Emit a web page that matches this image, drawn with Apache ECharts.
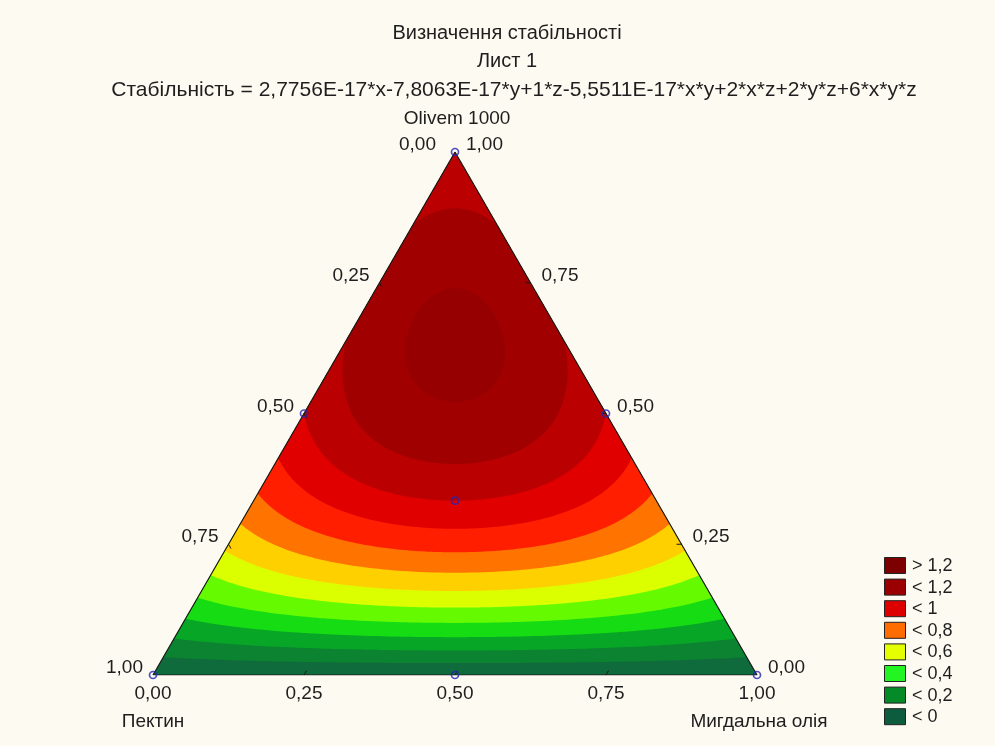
<!DOCTYPE html>
<html>
<head>
<meta charset="utf-8">
<title>Визначення стабільності</title>
<script src="https://cdn.jsdelivr.net/npm/echarts@6/dist/echarts.min.js"></script>
<style>
  html, body { margin: 0; padding: 0; background: #fdfaf1; }
  #chart { width: 995px; height: 746px; }
</style>
</head>
<body>
<div id="chart"></div>
<script>
// Fitted mixture model (x = Пектин, y = Мигдальна олія, z = Olivem 1000):
// Стабільність = b1*x + b2*y + b3*z + b12*x*y + b13*x*z + b23*y*z + b123*x*y*z
const modelCoefs = [2.7756e-17, -7.8063e-17, 1, -5.5511e-17, 2, 2, 6];

// Contour levels and the fill used from each level upwards
const contourLevels = [0, 0.1, 0.2, 0.3, 0.4, 0.5, 0.6, 0.7, 0.8, 0.9, 1.0, 1.1, 1.2];
const bandColors = ['#0f6b3b', '#0b8331', '#08a626', '#16dc14', '#66fa00', '#dcff00',
                    '#ffd000', '#ff7400', '#ff1e00', '#e00000', '#ba0000', '#a00000', '#960000'];

// Legend entries
const legendLabels = ['> 1,2', '< 1,2', '< 1', '< 0,8', '< 0,6', '< 0,4', '< 0,2', '< 0'];
const legendColors = ['#7c0000', '#9a0000', '#dc0000', '#ff6c00', '#e4ff00', '#22f522', '#048a26', '#0c5c3d'];

// Simplex-centroid design points [Пектин, Мигдальна олія, Olivem 1000]
const designPoints = [
  [1, 0, 0], [0, 1, 0], [0, 0, 1],
  [0.5, 0.5, 0], [0.5, 0, 0.5], [0, 0.5, 0.5],
  [1 / 3, 1 / 3, 1 / 3]
];

// Edge scale
const tickValues = [0, 0.25, 0.5, 0.75, 1];
const tickLabels = ['0,00', '0,25', '0,50', '0,75', '1,00'];

const titleLines = [
  'Визначення стабільності',
  'Лист 1',
  'Стабільність = 2,7756E-17*x-7,8063E-17*y+1*z-5,5511E-17*x*y+2*x*z+2*y*z+6*x*y*z'
];
const componentNames = ['Пектин', 'Мигдальна олія', 'Olivem 1000'];

const FONT = '"Liberation Sans", Arial, sans-serif';
const TEXT_COLOR = '#1e1e1e';

// ---- helpers ----
function model(x, y, z) {
  const b = modelCoefs;
  return b[0] * x + b[1] * y + b[2] * z + b[3] * x * y + b[4] * x * z + b[5] * y * z + b[6] * x * y * z;
}
// mixture (x, y, z) -> plane position: bottom-left = Пектин, bottom-right = Мигдальна олія, top = Olivem
function toPlane(x, y, z) {
  return [y + z / 2, z];
}

// Keep the part of a polygon where value >= level (values interpolated linearly)
function clipAbove(poly, level) {
  const out = [];
  for (let i = 0; i < poly.length; i++) {
    const a = poly[i];
    const b = poly[(i + 1) % poly.length];
    const ina = a[2] >= level, inb = b[2] >= level;
    if (ina) out.push(a);
    if (ina !== inb) {
      const t = (level - a[2]) / (b[2] - a[2]);
      out.push([a[0] + t * (b[0] - a[0]), a[1] + t * (b[1] - a[1]), level]);
    }
  }
  return out;
}

// Triangular mesh over the simplex
const N = 96;
const meshTris = [];
function node(i, j) {
  const z = i / N, y = j / N, x = Math.max(0, 1 - z - y);
  const p = toPlane(x, y, z);
  return [p[0], p[1], model(x, y, z)];
}
for (let i = 0; i < N; i++) {
  for (let j = 0; i + j < N; j++) {
    meshTris.push([node(i, j), node(i, j + 1), node(i + 1, j)]);
    if (i + j + 2 <= N) meshTris.push([node(i, j + 1), node(i + 1, j + 1), node(i + 1, j)]);
  }
}

// Superlevel regions, one per contour level (the first one is the whole simplex)
const layers = contourLevels.map((lev, k) => {
  if (k === 0) return [[toPlane(1, 0, 0), toPlane(0, 1, 0), toPlane(0, 0, 1)]];
  const pieces = [];
  meshTris.forEach(tri => {
    const c = clipAbove(tri, lev);
    if (c.length >= 3) pieces.push(c);
  });
  return pieces;
});

const outline = [[1, 0, 0], [0, 1, 0], [0, 0, 1], [1, 0, 0]].map(v => toPlane(v[0], v[1], v[2]));

// Scale labels: left edge = Пектин, right edge = Olivem 1000, bottom = Мигдальна олія
const scaleItems = [];
tickValues.forEach((v, i) => {
  scaleItems.push({ pos: toPlane(v, 0, 1 - v), text: tickLabels[i], edge: 'left', v });
  scaleItems.push({ pos: toPlane(0, 1 - v, v), text: tickLabels[i], edge: 'right', v });
  scaleItems.push({ pos: toPlane(1 - v, v, 0), text: tickLabels[i], edge: 'bottom', v });
});

const chart = echarts.init(document.getElementById('chart'), null, { renderer: 'canvas' });

const option = {
  backgroundColor: '#fdfaf1',
  animation: false,
  grid: { left: 153, top: 152, width: 604, height: 523 },
  xAxis: { type: 'value', min: 0, max: 1, show: false },
  yAxis: { type: 'value', min: 0, max: 1, show: false },
  graphic: [
    ...titleLines.map((t, i) => ({
      type: 'text', x: i === 2 ? 514 : 507, y: 33 + i * 28.5, silent: true,
      style: { text: t, font: (i === 2 ? 21 : 20) + 'px ' + FONT, fill: TEXT_COLOR, align: 'center', verticalAlign: 'middle' }
    })),
    ...legendLabels.flatMap((t, i) => [
      {
        type: 'rect', silent: true,
        shape: { x: 884.5, y: 557.5 + i * 21.6, width: 21, height: 16 },
        style: { fill: legendColors[i], stroke: '#222', lineWidth: 1 }
      },
      {
        type: 'text', x: 912, y: 566 + i * 21.6, silent: true,
        style: { text: t, font: '18px ' + FONT, fill: TEXT_COLOR, align: 'left', verticalAlign: 'middle' }
      }
    ])
  ],
  series: [
    {
      type: 'custom', name: 'contours', silent: true, clip: false, z: 1,
      data: layers.map(() => [0, 0]),
      renderItem: (params, api) => {
        const k = params.dataIndex;
        let d = '';
        layers[k].forEach(poly => {
          poly.forEach((pt, n) => {
            const c = api.coord([pt[0], pt[1]]);
            d += (n ? 'L' : 'M') + c[0].toFixed(2) + ' ' + c[1].toFixed(2);
          });
          d += 'Z';
        });
        return { type: 'path', shape: { pathData: d }, style: { fill: bandColors[k] } };
      }
    },
    {
      type: 'line', name: 'outline', silent: true, z: 3, symbol: 'none',
      data: outline,
      lineStyle: { color: '#1a1a1a', width: 1.2 }
    },
    {
      type: 'custom', name: 'scale', silent: true, clip: false, z: 4,
      data: scaleItems.map(s => s.pos),
      renderItem: (params, api) => {
        const s = scaleItems[params.dataIndex];
        const c = api.coord(s.pos);
        const children = [];
        let tx, ty, align, tick = null;
        const L = 5;
        if (s.edge === 'left') {
          tx = c[0] - (s.v === 0 ? 19 : 10); ty = c[1] - 7; align = 'right';
          if (s.v > 0 && s.v < 1) tick = [c[0], c[1], c[0] + L * 0.5, c[1] + L * 0.866];
        } else if (s.edge === 'right') {
          tx = c[0] + 11; ty = c[1] - 7; align = 'left';
          if (s.v > 0 && s.v < 1) tick = [c[0], c[1], c[0] - L, c[1]];
        } else {
          tx = c[0]; ty = c[1] + 19; align = 'center';
          if (s.v > 0 && s.v < 1) tick = [c[0], c[1], c[0] + L * 0.5, c[1] - L * 0.866];
        }
        if (tick) {
          children.push({
            type: 'line', shape: { x1: tick[0], y1: tick[1], x2: tick[2], y2: tick[3] },
            style: { stroke: '#1a1a1a', lineWidth: 1 }
          });
        }
        children.push({
          type: 'text', x: tx, y: ty,
          style: { text: s.text, font: '19px ' + FONT, fill: TEXT_COLOR, align: align, verticalAlign: 'middle' }
        });
        return { type: 'group', children };
      }
    },
    {
      type: 'custom', name: 'components', silent: true, clip: false, z: 4,
      data: [toPlane(1, 0, 0), toPlane(0, 1, 0), toPlane(0, 0, 1)],
      renderItem: (params, api) => {
        const i = params.dataIndex;
        const c = api.coord([api.value(0), api.value(1)]);
        const dx = [0, 2, 2][i], dy = [47, 47, -33][i];
        return {
          type: 'text', x: c[0] + dx, y: c[1] + dy,
          style: { text: componentNames[i], font: '19px ' + FONT, fill: TEXT_COLOR, align: 'center', verticalAlign: 'middle' }
        };
      }
    },
    {
      type: 'scatter', name: 'design', silent: true, z: 5,
      symbol: 'circle', symbolSize: 7,
      data: designPoints.map(p => toPlane(p[0], p[1], p[2])),
      itemStyle: { color: 'rgba(0,0,0,0)', borderColor: '#2424b4', borderWidth: 1.7 }
    }
  ]
};

chart.setOption(option);
</script>
</body>
</html>
